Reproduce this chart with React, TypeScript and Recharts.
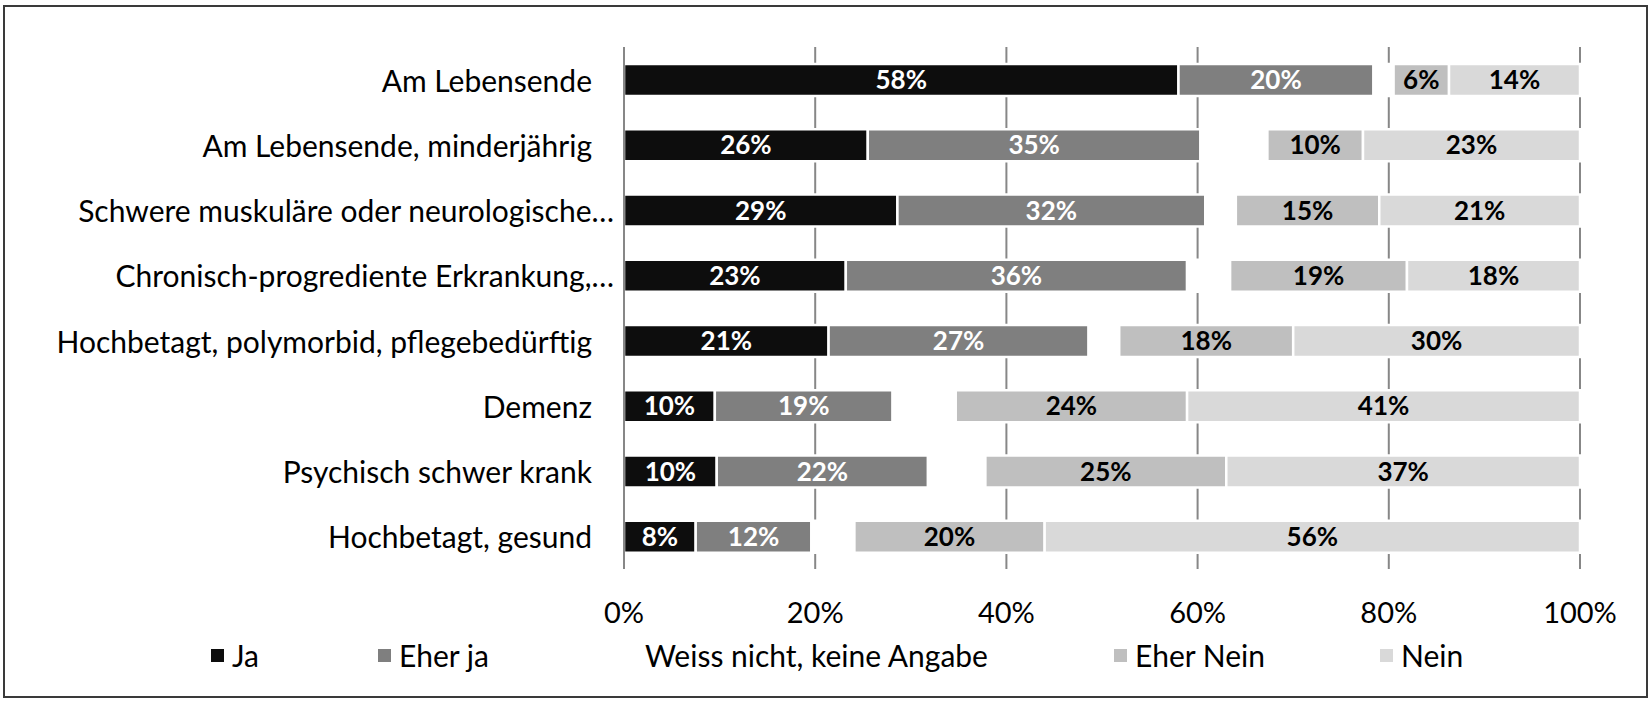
import React from 'react';
import { BarChart, Bar, XAxis, YAxis, CartesianGrid, LabelList, Legend } from 'recharts';

const categories = [
  'Am Lebensende',
  'Am Lebensende, minderjährig',
  'Schwere muskuläre oder neurologische…',
  'Chronisch-progrediente Erkrankung,…',
  'Hochbetagt, polymorbid, pflegebedürftig',
  'Demenz',
  'Psychisch schwer krank',
  'Hochbetagt, gesund',
];
const ja = [58.0, 25.5, 28.6, 23.2, 21.4, 9.5, 9.7, 7.5];
const eherJa = [20.4, 34.8, 32.2, 35.7, 27.2, 18.6, 22.1, 12.1];
const weissNicht = [2.1, 7.0, 3.2, 4.5, 3.2, 6.6, 6.0, 4.5];
const eherNein = [5.8, 10.0, 15.0, 18.5, 18.2, 24.2, 25.2, 19.9];
const nein = [13.7, 22.7, 21.0, 18.1, 30.0, 41.1, 37.0, 56.0];
const xTicks = [0, 20, 40, 60, 80, 100];
const seriesNames = ['Ja', 'Eher ja', 'Weiss nicht, keine Angabe', 'Eher Nein', 'Nein'];
const seriesColors = ['#0d0d0d', '#7f7f7f', '#ffffff', '#bfbfbf', '#d9d9d9'];

const data = categories.map((name, i) => ({
  name,
  ja: ja[i],
  eherJa: eherJa[i],
  weiss: weissNicht[i],
  eherNein: eherNein[i],
  nein: nein[i],
}));

const FONT = 'Lato, sans-serif';

const CategoryTick = (props: any) => {
  const { x, y, payload } = props;
  const label: string = payload.value;
  const dx = label.endsWith('…') ? 0 : -22;
  return (
    <text x={x + dx} y={y} textAnchor="end" dominantBaseline="central" fontSize={30} fill="#000" fontFamily={FONT}>
      {label}
    </text>
  );
};

const legendSquareX = [211, 378, 624, 1114, 1380];

const renderLegend = () => {
  return (
    <div style={{ position: 'relative', width: 1652, height: 40, fontFamily: FONT }}>
      {seriesNames.map((name, i) => (
        <div key={i} style={{ position: 'absolute', left: legendSquareX[i], top: 0, height: 40, display: 'flex', alignItems: 'center' }}>
          <div style={{ width: 13, height: 13, background: seriesColors[i] }} />
          <span style={{ marginLeft: 8, fontSize: 30, color: '#000', whiteSpace: 'nowrap' }}>{name}</span>
        </div>
      ))}
    </div>
  );
};

const pct = (v: any) => `${Math.round(Number(v))}%`;

export default function App() {
  const labelStyle = { fontSize: 26, fontWeight: 700, fontFamily: FONT };
  return (
    <div style={{ position: 'absolute', left: 0, top: 0, width: 1652, height: 701, background: '#fff', fontFamily: FONT }}>
      <div style={{ position: 'absolute', left: 3, top: 5, width: 1645, height: 693, border: '2px solid #3a3a3a', boxSizing: 'border-box' }} />
      <div style={{ position: 'absolute', left: 0, top: 0 }}>
        <BarChart
          width={1652}
          height={701}
          data={data}
          layout="vertical"
          margin={{ top: 47, right: 72, left: 0, bottom: 42 }}
        >
          <CartesianGrid horizontal={false} vertical={true} stroke="#878787" strokeWidth={2} />
          <XAxis
            type="number"
            domain={[0, 100]}
            ticks={xTicks}
            tickFormatter={(v: number) => `${v}%`}
            axisLine={false}
            tickLine={false}
            tickSize={0}
            tickMargin={33}
            height={50}
            tick={{ fontSize: 29, fill: '#000', fontFamily: FONT }}
          />
          <YAxis
            type="category"
            dataKey="name"
            width={624}
            interval={0}
            axisLine={{ stroke: '#878787', strokeWidth: 2 }}
            tickLine={false}
            tickSize={0}
            tickMargin={10}
            tick={<CategoryTick />}
          />
          <Legend content={renderLegend} wrapperStyle={{ left: 0, top: 635, bottom: 'auto', width: 1652, height: 40 }} />
          <Bar dataKey="ja" name={seriesNames[0]} stackId="a" fill={seriesColors[0]} stroke="#fff" strokeWidth={2.5} barSize={32} isAnimationActive={false}>
            <LabelList dataKey="ja" position="center" formatter={pct} fill="#fff" style={labelStyle} />
          </Bar>
          <Bar dataKey="eherJa" name={seriesNames[1]} stackId="a" fill={seriesColors[1]} stroke="#fff" strokeWidth={2.5} barSize={32} isAnimationActive={false}>
            <LabelList dataKey="eherJa" position="center" formatter={pct} fill="#fff" style={labelStyle} />
          </Bar>
          <Bar dataKey="weiss" name={seriesNames[2]} stackId="a" fill={seriesColors[2]} stroke="#fff" strokeWidth={2.5} barSize={32} isAnimationActive={false} />
          <Bar dataKey="eherNein" name={seriesNames[3]} stackId="a" fill={seriesColors[3]} stroke="#fff" strokeWidth={2.5} barSize={32} isAnimationActive={false}>
            <LabelList dataKey="eherNein" position="center" formatter={pct} fill="#000" style={labelStyle} />
          </Bar>
          <Bar dataKey="nein" name={seriesNames[4]} stackId="a" fill={seriesColors[4]} stroke="#fff" strokeWidth={2.5} barSize={32} isAnimationActive={false}>
            <LabelList dataKey="nein" position="center" formatter={pct} fill="#000" style={labelStyle} />
          </Bar>
        </BarChart>
      </div>
    </div>
  );
}
